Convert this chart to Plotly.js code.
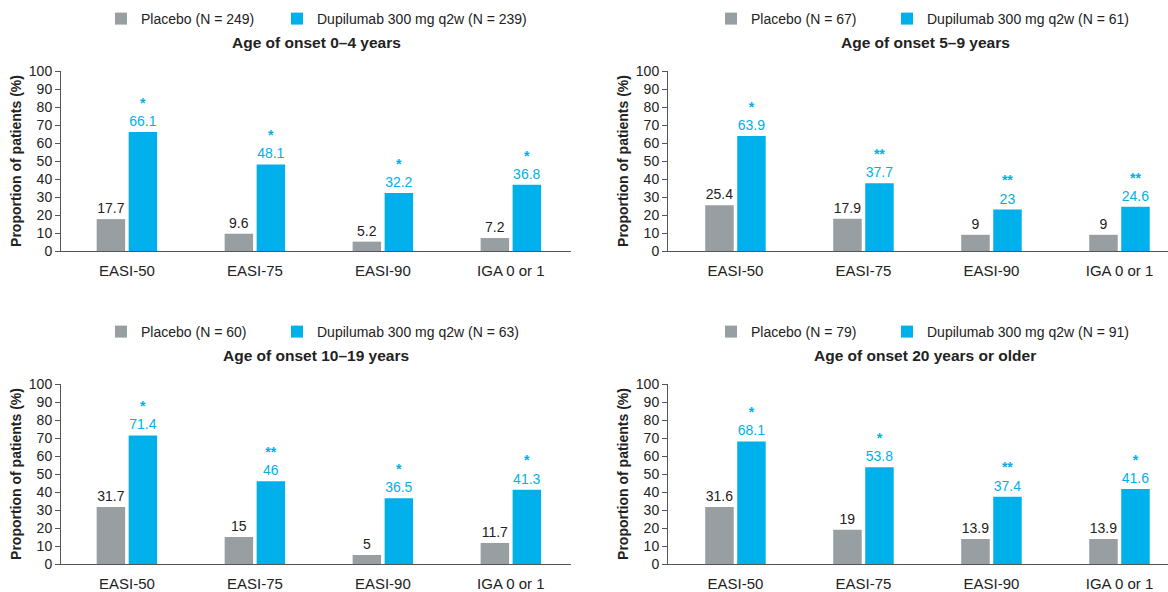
<!DOCTYPE html>
<html>
<head>
<meta charset="utf-8">
<script src="https://cdn.plot.ly/plotly-3.0.1.min.js"></script>
<style>html,body{margin:0;padding:0;background:#fff;}#chart{width:1168px;height:592px;}</style>
</head>
<body>
<div id="chart"></div>
<script>
const categories = ['EASI-50', 'EASI-75', 'EASI-90', 'IGA 0 or 1'];
const panelTitles = ['Age of onset 0–4 years', 'Age of onset 5–9 years', 'Age of onset 10–19 years', 'Age of onset 20 years or older'];
const placeboN = [249, 67, 60, 79];
const dupilumabN = [239, 61, 63, 91];
const placebo0to4 = [17.7, 9.6, 5.2, 7.2];
const dupilumab0to4 = [66.1, 48.1, 32.2, 36.8];
const stars0to4 = ['*', '*', '*', '*'];
const placebo5to9 = [25.4, 17.9, 9, 9];
const dupilumab5to9 = [63.9, 37.7, 23, 24.6];
const stars5to9 = ['*', '**', '**', '**'];
const placebo10to19 = [31.7, 15, 5, 11.7];
const dupilumab10to19 = [71.4, 46, 36.5, 41.3];
const stars10to19 = ['*', '**', '*', '*'];
const placebo20plus = [31.6, 19, 13.9, 13.9];
const dupilumab20plus = [68.1, 53.8, 37.4, 41.6];
const stars20plus = ['*', '*', '**', '*'];
const yTicks = [0, 10, 20, 30, 40, 50, 60, 70, 80, 90, 100];

const panels = [
  {pl: placebo0to4, du: dupilumab0to4, st: stars0to4},
  {pl: placebo5to9, du: dupilumab5to9, st: stars5to9},
  {pl: placebo10to19, du: dupilumab10to19, st: stars10to19},
  {pl: placebo20plus, du: dupilumab20plus, st: stars20plus}
];

const GREY = '#979fa2';
const BLUE = '#00b0ea';
const FONT = 'Liberation Sans, Arial, Helvetica, sans-serif';

const W = 1168, H = 592;
const xDomains = [[61 / W, 571 / W], [668 / W, 1]];
const yDomains = [[1 - 251 / H, 1 - 71 / H], [1 - 564 / H, 1 - 384 / H]];
const xRanges = [[-0.515, 3.47], [-0.527, 3.379]];
const legendXPlacebo = [101 / W, 711 / W];
const legendXDupilumab = [277 / W, 887 / W];
const legendY = [1 - 19 / H, 1 - 332 / H];
const titleX = [316 / W, 925 / W];
const titleY = [1 - 42 / H, 1 - 355 / H];

const traces = [];
const layout = {
  width: W, height: H,
  margin: {l: 0, r: 0, t: 0, b: 0},
  paper_bgcolor: '#fff', plot_bgcolor: '#fff',
  font: {family: FONT, color: '#222', size: 14},
  barmode: 'group', bargap: 0.5, bargroupgap: 0.11,
  showlegend: true,
  annotations: []
};

function legendSpec(x, y) {
  return {
    orientation: 'h', x: x, y: y,
    xanchor: 'left', yanchor: 'middle',
    font: {size: 14, color: '#222', family: FONT},
    bgcolor: 'rgba(0,0,0,0)', itemclick: false, itemdoubleclick: false
  };
}

panels.forEach((p, i) => {
  const col = i % 2, row = Math.floor(i / 2);
  const sfx = i === 0 ? '' : String(i + 1);
  const lgA = 'legend' + (i === 0 ? '' : String(2 * i + 1));
  const lgB = 'legend' + String(2 * i + 2);
  traces.push({
    type: 'bar', x: categories, y: p.pl,
    name: 'Placebo (N = ' + placeboN[i] + ')',
    marker: {color: GREY},
    text: p.pl.map(v => String(v)),
    textposition: 'outside', cliponaxis: false,
    textfont: {color: '#222', size: 14, family: FONT},
    xaxis: 'x' + sfx, yaxis: 'y' + sfx, legend: lgA,
    hoverinfo: 'skip'
  });
  traces.push({
    type: 'bar', x: categories, y: p.du,
    name: 'Dupilumab 300 mg q2w (N = ' + dupilumabN[i] + ')',
    marker: {color: BLUE},
    text: p.du.map((v, k) => '<b>' + p.st[k] + '</b><br>' + String(v)),
    textposition: 'outside', cliponaxis: false,
    textfont: {color: BLUE, size: 14, family: FONT},
    xaxis: 'x' + sfx, yaxis: 'y' + sfx, legend: lgB,
    hoverinfo: 'skip'
  });
  layout['xaxis' + sfx] = {
    domain: xDomains[col], anchor: 'y' + sfx,
    type: 'category', range: xRanges[col],
    showline: true, linecolor: '#555', linewidth: 1,
    ticks: '', ticklabelstandoff: 6,
    tickfont: {size: 15, color: '#222', family: FONT},
    showgrid: false, zeroline: false, fixedrange: true
  };
  layout['yaxis' + sfx] = {
    domain: yDomains[row], anchor: 'x' + sfx,
    range: [0, 100], tickvals: yTicks,
    showline: true, linecolor: '#555', linewidth: 1,
    ticks: 'outside', ticklen: 5, tickcolor: '#555', tickwidth: 1,
    tickfont: {size: 14, color: '#222', family: FONT},
    showgrid: false, zeroline: false, fixedrange: true,
    title: {text: '<b>Proportion of patients (%)</b>', font: {size: 14, color: '#222', family: FONT}, standoff: 3}
  };
  layout[lgA] = legendSpec(legendXPlacebo[col], legendY[row]);
  layout[lgB] = legendSpec(legendXDupilumab[col], legendY[row]);
  layout.annotations.push({
    xref: 'paper', yref: 'paper', x: titleX[col], y: titleY[row],
    xanchor: 'center', yanchor: 'middle', showarrow: false,
    text: '<b>' + panelTitles[i] + '</b>',
    font: {size: 15.5, color: '#222', family: FONT}
  });
});

Plotly.newPlot('chart', traces, layout, {displayModeBar: false, staticPlot: true});
</script>
</body>
</html>
